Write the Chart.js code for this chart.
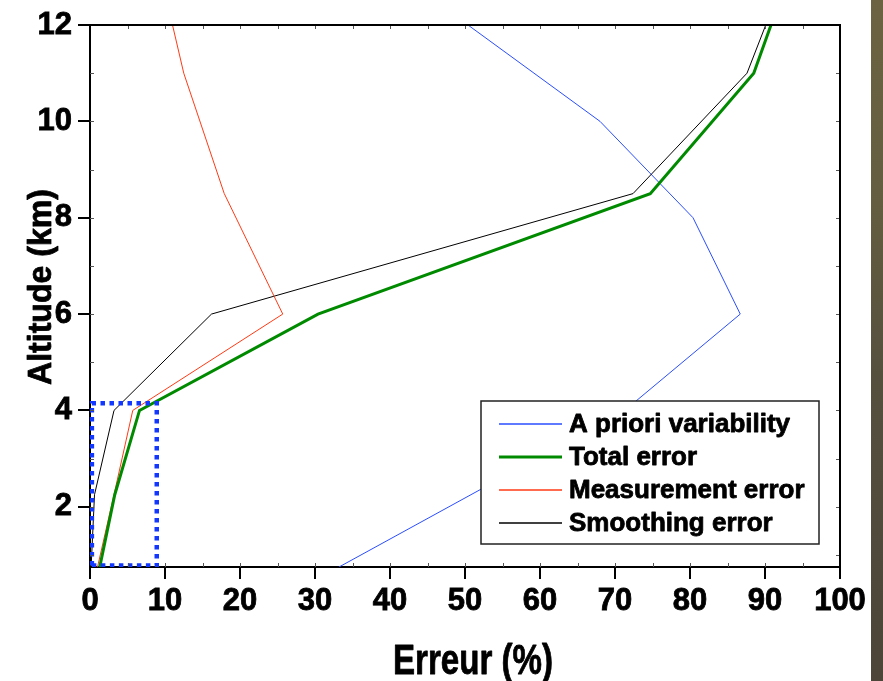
<!DOCTYPE html>
<html>
<head>
<meta charset="utf-8">
<title>Erreur (%)</title>
<script src="https://cdn.jsdelivr.net/npm/chart.js@4.4.0/dist/chart.umd.min.js"></script>
<style>
  html, body { margin: 0; padding: 0; background: #fff; }
  #wrap { position: relative; width: 883px; height: 681px; }
  #myChart { display: block; }
  /* dark strip along the right edge of the slide */
  #strip {
    position: absolute; left: 871px; top: 0; width: 12px; height: 681px;
    background: linear-gradient(to bottom, #6b6341 0%, #645d40 30%, #55503e 55%, #4f4a3b 80%, #4c4538 100%);
  }
</style>
</head>
<body>
<div id="wrap">
  <canvas id="myChart"></canvas>
  <div id="strip"></div>
</div>
<script>
// altitude (km) / error (%) profiles
const aprioriAlt = [0.75, 4, 6, 8, 10, 12];
const aprioriVal = [33.2, 71.3, 86.7, 80.4, 68.0, 50.4];

const profileAlt = [0.75, 2.25, 4, 6, 8.5, 11, 12];
const totalVal = [1.3, 3.3, 6.6, 30.4, 74.7, 88.5, 90.8];
const measureVal = [1.0, 3.2, 5.7, 25.7, 17.9, 12.5, 11.0];
const smoothVal = [0.15, 0.6, 3.2, 16.2, 72.4, 87.6, 90.1];

// dotted box around the lower part of the profiles
const boxX = [0.25, 8.9, 8.9, 0.25, 0.25];
const boxY = [0.78, 0.78, 4.15, 4.15, 0.78];

const xTicks = [0, 10, 20, 30, 40, 50, 60, 70, 80, 90, 100];
const yTicks = [2, 4, 6, 8, 10, 12];

const legendNames = ['A priori variability', 'Total error', 'Measurement error', 'Smoothing error'];

function toPoints(xs, ys) {
  return xs.map((x, i) => ({ x: x, y: ys[i] }));
}

const FONT = '"Liberation Sans", Arial, Helvetica, sans-serif';

// frame on top/right plus small inner ticks on all four sides
const framePlugin = {
  id: 'frame',
  afterDatasetsDraw(chart) {
    const { ctx, chartArea: a, scales } = chart;
    const x = scales.x, y = scales.y;
    ctx.save();
    ctx.strokeStyle = '#555';
    ctx.lineWidth = 1;
    ctx.beginPath();
    for (let v = 5; v < 100; v += 5) {
      const px = Math.round(x.getPixelForValue(v)) + 0.5;
      ctx.moveTo(px, a.bottom); ctx.lineTo(px, a.bottom - 4);
      ctx.moveTo(px, a.top); ctx.lineTo(px, a.top + 4);
    }
    for (let v = 1; v < 12; v += 1) {
      const py = Math.round(y.getPixelForValue(v)) + 0.5;
      ctx.moveTo(a.left, py); ctx.lineTo(a.left + 4, py);
      ctx.moveTo(a.right, py); ctx.lineTo(a.right - 4, py);
    }
    ctx.stroke();
    ctx.strokeStyle = '#000';
    ctx.lineWidth = 2;
    ctx.beginPath();
    ctx.moveTo(a.left - 12, a.top);
    ctx.lineTo(a.right, a.top);
    ctx.lineTo(a.right, a.bottom);
    ctx.stroke();
    ctx.restore();
  }
};

// heavy text: fill plus a thin outline of the same colour
function boldText(ctx, text, x, y, stroke) {
  ctx.lineWidth = stroke;
  ctx.strokeStyle = '#000';
  ctx.lineJoin = 'round';
  ctx.strokeText(text, x, y);
  ctx.fillText(text, x, y);
}

// boxed legend inside the plot, bottom right
const legendPlugin = {
  id: 'boxLegend',
  afterDraw(chart) {
    const { ctx } = chart;
    const left = 481, top = 401, right = 819, bottom = 544;
    ctx.save();
    ctx.fillStyle = '#fff';
    ctx.fillRect(left, top, right - left, bottom - top);
    ctx.strokeStyle = '#222';
    ctx.lineWidth = 1.5;
    ctx.strokeRect(left, top, right - left, bottom - top);
    ctx.font = 'bold 26px ' + FONT;
    ctx.textBaseline = 'middle';
    ctx.textAlign = 'left';
    legendNames.forEach((name, i) => {
      const ds = chart.data.datasets.find(d => d.label === name);
      const yy = 424 + i * 33;
      ctx.strokeStyle = ds.borderColor;
      ctx.lineWidth = Math.max(ds.borderWidth, 1.5);
      ctx.beginPath();
      ctx.moveTo(499, yy);
      ctx.lineTo(562, yy);
      ctx.stroke();
      ctx.fillStyle = '#000';
      boldText(ctx, name, 569, yy + 1, 0.8);
    });
    ctx.restore();
  }
};

// axis titles, drawn in a condensed bold face
const titlePlugin = {
  id: 'axisTitles',
  afterDraw(chart) {
    const { ctx } = chart;
    ctx.save();
    ctx.fillStyle = '#000';
    ctx.textAlign = 'center';
    ctx.textBaseline = 'alphabetic';

    ctx.font = 'bold 42px ' + FONT;
    let w = ctx.measureText('Erreur (%)').width;
    ctx.save();
    ctx.translate(473, 674);
    ctx.scale(160 / w, 1);
    boldText(ctx, 'Erreur (%)', 0, 0, 0.8);
    ctx.restore();

    ctx.font = 'bold 34px ' + FONT;
    w = ctx.measureText('Altitude (km)').width;
    ctx.save();
    ctx.translate(51, 287);
    ctx.rotate(-Math.PI / 2);
    ctx.scale(196 / w, 1);
    boldText(ctx, 'Altitude (km)', 0, 0, 0.8);
    ctx.restore();

    ctx.restore();
  }
};

function createChart() {
  const ctx = document.getElementById('myChart').getContext('2d');
  const line = (label, xs, ys, color, width) => ({
    label: label,
    data: toPoints(xs, ys),
    showLine: true,
    borderColor: color,
    backgroundColor: color,
    borderWidth: width,
    pointRadius: 0,
    tension: 0
  });

  const tickFont = { family: FONT, size: 31, weight: 'bold' };

  new Chart(ctx, {
    type: 'scatter',
    data: {
      datasets: [
        Object.assign(line('box', boxX, boxY, '#1238ff', 4.5), { borderDash: [4.5, 4.5] }),
        line('Total error', totalVal, profileAlt, '#008a00', 3),
        line('Measurement error', measureVal, profileAlt, '#ff3a14', 1),
        line('Smoothing error', smoothVal, profileAlt, '#000000', 1),
        line('A priori variability', aprioriVal, aprioriAlt, '#2a4dff', 1)
      ]
    },
    options: {
      responsive: true,
      maintainAspectRatio: false,
      animation: false,
      layout: { padding: { top: 25, right: 43, left: 0, bottom: 0 } },
      plugins: {
        legend: { display: false },
        tooltip: { enabled: false }
      },
      scales: {
        x: {
          type: 'linear',
          min: 0,
          max: 100,
          afterFit(scale) { scale.height = 114; },
          afterBuildTicks(scale) { scale.ticks = xTicks.map(v => ({ value: v })); },
          border: { display: true, color: '#000', width: 2 },
          grid: { drawOnChartArea: false, drawTicks: true, tickLength: 12, color: '#000', lineWidth: 2 },
          ticks: {
            color: '#000',
            padding: 4,
            maxRotation: 0,
            textStrokeColor: '#000',
            textStrokeWidth: 0.8,
            font: tickFont
          }
        },
        y: {
          type: 'linear',
          min: 0.75,
          max: 12,
          afterFit(scale) { scale.width = 90; },
          afterBuildTicks(scale) { scale.ticks = yTicks.map(v => ({ value: v })); },
          border: { display: true, color: '#000', width: 2 },
          grid: { drawOnChartArea: false, drawTicks: true, tickLength: 12, color: '#000', lineWidth: 2 },
          ticks: {
            color: '#000',
            padding: 6,
            textStrokeColor: '#000',
            textStrokeWidth: 0.8,
            font: tickFont
          }
        }
      }
    },
    plugins: [framePlugin, legendPlugin, titlePlugin]
  });
}

document.addEventListener('DOMContentLoaded', function () {
  createChart();
});
</script>
</body>
</html>
